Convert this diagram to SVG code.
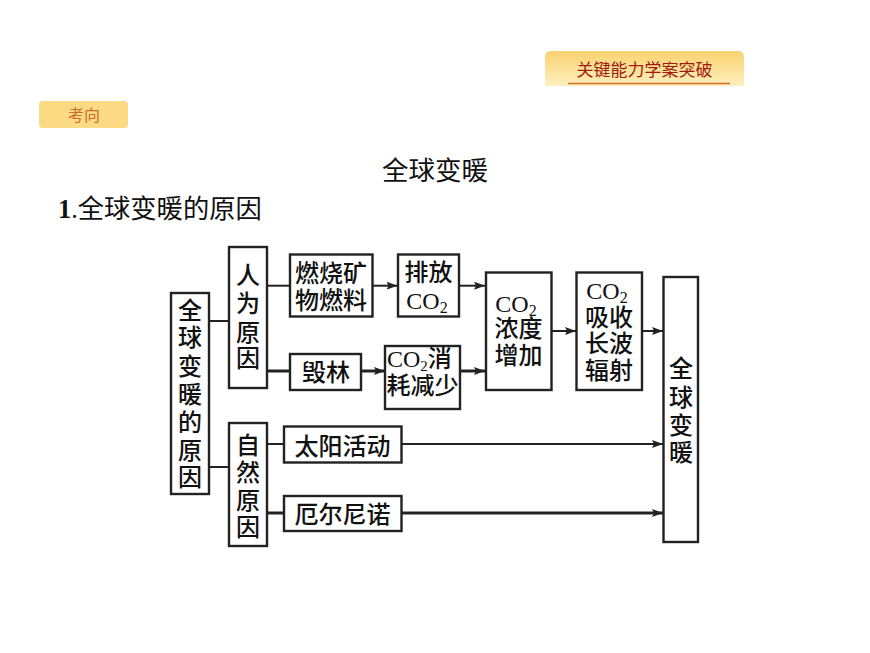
<svg xmlns="http://www.w3.org/2000/svg" width="870" height="653" viewBox="0 0 870 653">
<style>
text{font-family:"Noto Sans CJK SC","Liberation Sans",sans-serif;fill:#111;text-anchor:middle}
.d{font-size:24px;font-weight:500}
.b{fill:#fff;stroke:#222;stroke-width:2.4}
.c{fill:none;stroke:#222;stroke-width:2;marker-end:url(#a)}
.n{fill:none;stroke:#222;stroke-width:2}
.t{stroke-width:3}
.s{font-family:"Liberation Serif",serif}
</style>
<defs>
<linearGradient id="g" x1="0" y1="0" x2="0" y2="1"><stop offset="0" stop-color="#fad26f"/><stop offset="1" stop-color="#fef0be"/></linearGradient>
<marker id="a" markerUnits="userSpaceOnUse" markerWidth="12" markerHeight="8" refX="11" refY="4" orient="auto"><path d="M0 0L11 4L0 8L2 4Z" fill="#222"/></marker>
</defs>
<rect width="870" height="653" fill="#fff"/>
<g id="header">
<path d="M545 86V57Q545 51 551 51H738Q744 51 744 57V86Z" fill="url(#g)"/>
<text x="644.500" y="76" style="font-size:17px;fill:#a01c10">关键能力学案突破</text>
<path d="M568 83.500H730" stroke="#cf6d2a" stroke-width="1.500"/>
</g>
<g id="tag">
<rect x="39" y="101" width="89" height="27" rx="4" fill="#fcd983"/>
<text x="84" y="121" style="font-size:16px;fill:#c8702c">考向</text>
</g>
<text x="435" y="180" style="font-size:26.500px">全球变暖</text>
<text x="58" y="218" style="font-size:26.300px;text-anchor:start"><tspan style="font-family:'Liberation Serif',serif;font-weight:bold">1</tspan><tspan style="font-family:'Liberation Serif',serif">.</tspan>全球变暖的原因</text>
<g id="connectors">
<path class="n" d="M209 321H229M209 467H229M267 444H284"/>
<path class="n t" d="M267 513H284"/>
<path class="n" d="M267 285.700H290"/>
<path class="n t" d="M267 371H290"/>
<path class="c" d="M372 285.700H397.500"/>
<path class="c" d="M459 285.700H485"/>
<path class="c t" d="M361 371H385"/>
<path class="c t" d="M460 371H485"/>
<path class="c" d="M551 331H576"/>
<path class="c" d="M642 331H663"/>
<path class="c" d="M401.500 444H663"/>
<path class="c t" d="M401.500 513H663"/>
</g>
<g id="n-cause" class="d">
<rect class="b" x="171" y="293" width="38" height="201"/>
<text x="190" y="318.500">全</text><text x="190" y="346">球</text><text x="190" y="374.500">变</text><text x="190" y="402.500">暖</text><text x="190" y="430.500">的</text><text x="190" y="458.500">原</text><text x="190" y="485.500">因</text>
</g>
<g id="n-human" class="d">
<rect class="b" x="229" y="247" width="38" height="141"/>
<text x="248" y="283.500">人</text><text x="248" y="311.500">为</text><text x="248" y="340.500">原</text><text x="248" y="366.500">因</text>
</g>
<g id="n-natural" class="d">
<rect class="b" x="229" y="423" width="38" height="123"/>
<text x="248" y="453.500">自</text><text x="248" y="480.500">然</text><text x="248" y="508.500">原</text><text x="248" y="535.500">因</text>
</g>
<g id="n-fossil" class="d">
<rect class="b" x="290" y="254.500" width="82.500" height="62"/>
<text x="331" y="281.500">燃烧矿</text><text x="331" y="308.500">物燃料</text>
</g>
<g id="n-emit" class="d">
<rect class="b" x="398" y="254.500" width="61" height="62"/>
<text x="428.500" y="280.500">排放</text>
<text x="427" y="308.500" class="s">CO<tspan dy="4" style="font-size:16px">2</tspan></text>
</g>
<g id="n-deforest" class="d">
<rect class="b" x="290" y="354" width="71" height="36"/>
<text x="326" y="380.500">毁林</text>
</g>
<g id="n-absorb" class="d">
<rect class="b" x="385" y="346" width="75" height="63"/>
<text x="387" y="366.500" style="text-anchor:start"><tspan class="s">CO</tspan><tspan class="s" dy="4" style="font-size:15px">2</tspan><tspan dy="-4">消</tspan></text>
<text x="422.500" y="393.500">耗减少</text>
</g>
<g id="n-solar" class="d">
<rect class="b" x="284" y="426.500" width="117.500" height="36"/>
<text x="342.500" y="454.500">太阳活动</text>
</g>
<g id="n-enso" class="d">
<rect class="b" x="284" y="496" width="117.500" height="35"/>
<text x="342.500" y="522.500">厄尔尼诺</text>
</g>
<g id="n-conc" class="d">
<rect class="b" x="486" y="272.500" width="65.500" height="117.500"/>
<text x="516" y="311.500" class="s">CO<tspan dy="4" style="font-size:16px">2</tspan></text>
<text x="518.500" y="336.500">浓度</text><text x="518.500" y="363.500">增加</text>
</g>
<g id="n-long" class="d">
<rect class="b" x="576.500" y="272.500" width="65.500" height="117.500"/>
<text x="607" y="298.500" class="s">CO<tspan dy="4" style="font-size:16px">2</tspan></text>
<text x="609" y="325.500">吸收</text><text x="609" y="351.500">长波</text><text x="609" y="378.500">辐射</text>
</g>
<g id="n-warming" class="d">
<rect class="b" x="663.500" y="277" width="34.500" height="265"/>
<text x="681" y="376.500">全</text><text x="681" y="406">球</text><text x="681" y="433.500">变</text><text x="681" y="460.500">暖</text>
</g>
</svg>
